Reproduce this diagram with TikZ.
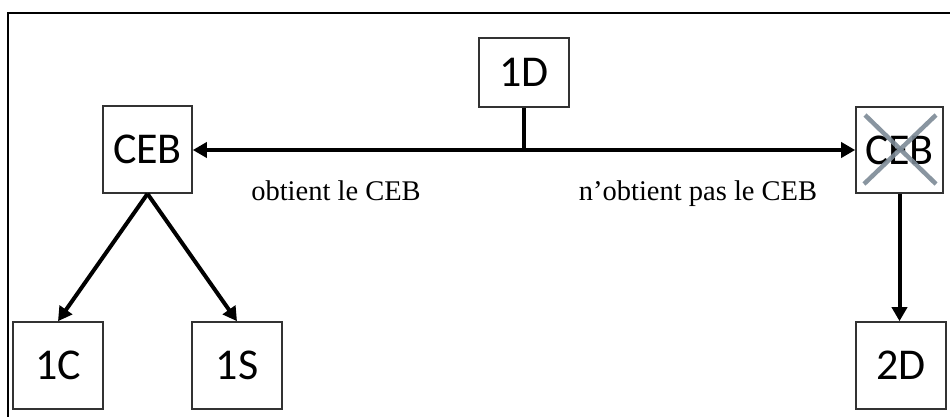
\documentclass[tikz,border=0pt]{standalone}
\usepackage{fontspec}
\setmainfont{Liberation Serif}
\newfontfamily\boxfont{Carlito}
\usetikzlibrary{arrows.meta}
\definecolor{boxline}{RGB}{50,50,50}
\definecolor{crossgray}{RGB}{125,138,150}
\begin{document}
\begin{tikzpicture}[x=1pt,y=-1pt,
  stagebox/.style={draw=boxline,line width=1.6pt,fill=white,inner sep=0pt,
    minimum width=89pt,minimum height=87pt,font=\boxfont\fontsize{44}{50}\selectfont},
  conn/.style={line width=4pt,draw=black},
  arr/.style={conn,-{Triangle[length=14pt,width=15pt]}},
  lbl/.style={font=\fontsize{28.5}{33}\selectfont,inner sep=0pt,anchor=base}]
\useasboundingbox (0,0) rectangle (950,416);
% frame (top and left)
\draw[line width=2.6pt,line cap=rect] (8,416) -- (8,13) -- (950,13);
% nodes
\node[stagebox,minimum width=90pt,minimum height=69pt] (d1) at (524,72.5) {1D};
\node[stagebox] (ceb1) at (147.5,149.5) {CEB};
\node[stagebox,minimum width=87pt,minimum height=86pt] (ceb2) at (899.5,150) {CEB};
\node[stagebox,minimum width=90pt] (c1) at (58,365.5) {1C};
\node[stagebox,minimum width=90pt] (s1) at (237,365.5) {1S};
\node[stagebox,minimum width=90pt] (d2) at (901,365.5) {2D};
% cross over the second CEB
\coordinate (xa) at (865,115);
\coordinate (xb) at (936,184);
\coordinate (xc) at (936,115);
\coordinate (xd) at (864,184);
\draw[line width=4.5pt,draw=crossgray,opacity=0.9] (xa) -- (xb);
\draw[line width=4.5pt,draw=crossgray,opacity=0.9] (xc) -- (xd);
% connectors
\coordinate (j) at (d1.south |- 0,150);
\draw[conn] (d1.south) -- (j);
\draw[arr] (j) -- (ceb1.east |- j);
\draw[arr] (j) -- (ceb2.west |- j);
\draw[arr] (ceb1.south) -- (c1.north);
\draw[arr] (ceb1.south) -- (s1.north);
\draw[arr] (ceb2.south) -- (ceb2.south |- d2.north);
% labels
\node[lbl] (l1) at (336,200) {obtient le CEB};
\node[lbl] (l2) at (698,200) {n’obtient pas le CEB};
\end{tikzpicture}
\end{document}
